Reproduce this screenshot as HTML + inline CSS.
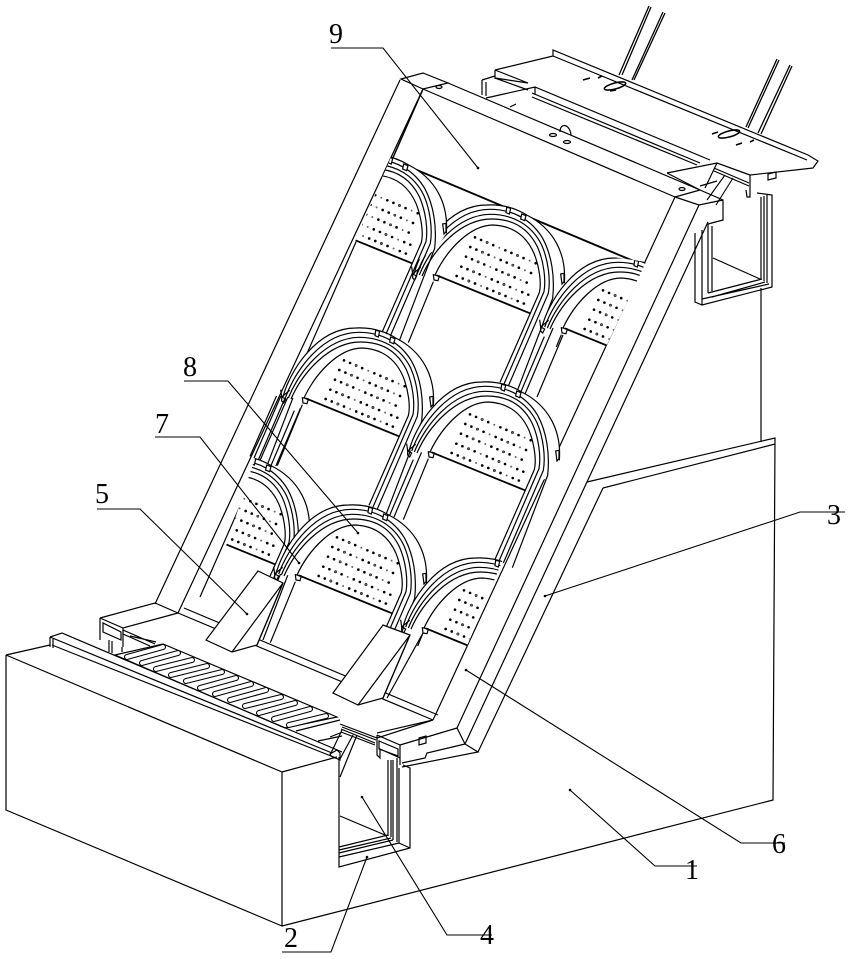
<!DOCTYPE html>
<html lang="en"><head><meta charset="utf-8"><title>Diagram</title>
<style>
html,body{margin:0;padding:0;background:#fff}
svg{display:block}
text{font-family:"Liberation Serif",serif;font-size:28px;fill:#000}
</style></head><body>
<svg width="850" height="959" viewBox="0 0 850 959" xmlns="http://www.w3.org/2000/svg">
<defs>
<clipPath id="cA"><polygon points="392,155 520,155 520,345 311,345"/></clipPath>
<clipPath id="cF"><polygon points="256,455 340,455 340,640 195,640"/></clipPath>
<clipPath id="cC"><polygon points="500,240 646,262 606,347 520,347 500,300"/></clipPath>
<clipPath id="cH"><polygon points="380,550 506,552 467,646 400,646 380,640"/></clipPath>
<clipPath id="cLeg"><rect x="240" y="396" width="60" height="70"/></clipPath>
<g id="leg" transform="translate(260,150) scale(.33333)" fill="none" stroke="#000" stroke-width="3.6">
<path d="M838 428L720 697M852 425L732 702M865 430L745 708M878 445L772 722M853 560L782 727M881 530L795 732"/>
</g>
<g id="extra" transform="translate(260,150) scale(.33333)" fill="none" stroke="#000" stroke-width="3.6">
<path d="M853 560L782 727M881 530L795 732"/>
</g>
<g id="arch" transform="translate(260,150) scale(.33333)" fill="none" stroke="#000" stroke-width="3.6">
<path fill="#fff" stroke="none" d="M462 370C480 300 560 165 680 165C720 163 760 170 800 195C880 235 920 310 913 400L880 450L810 490L525 380Z"/>
<path d="M462 372C480 300 560 165 680 165C720 163 760 170 800 195C880 235 920 310 913 400"/>
<path d="M470 372C500 290 580 178 690 178C760 178 815 210 848 265C875 315 885 380 878 445L772 722"/>
<path d="M478 375C510 295 590 195 690 193C760 193 815 225 845 285C865 330 872 390 865 430L745 708"/>
<path d="M486 378C520 300 600 207 695 207C760 207 805 235 832 290C852 335 858 390 852 425L732 702"/>
<path d="M525 375C560 300 630 225 700 225C760 228 800 260 822 310C838 350 845 400 838 428L720 697"/>
<path d="M902 372L912 370L912 395L906 402Z"/>
<path fill="#fff" d="M740 172L752 175L748 192L738 188ZM785 192L798 197L794 212L782 207Z"/>
<path d="M455 350L458 372L482 352M458 372L470 378L464 390L458 384Z"/>
<path fill="#fff" d="M520 374L538 378L534 392L522 390Z"/>
<path stroke-width="5.5" d="M530 376L810 490"/>
<path d="M520 395L445 578"/>
<g stroke-linecap="round">
<path stroke-width="8" stroke-dasharray="0 39.6 0 19.8 0 39.6" d="M645 262L830 341M631 291L825 374M618 320L815 404M604 350L805 434M590 378L795 462"/>
<path stroke-width="8" stroke-dasharray="0 19.8 0 79.2" stroke-dashoffset="-19.8" d="M645 262L830 341M631 291L825 374M618 320L815 404M604 350L805 434M590 378L795 462"/>
<path stroke-width="6" stroke="#666" stroke-dasharray="0 99" stroke-dashoffset="-39.6" d="M645 262L830 341M631 291L825 374M618 320L815 404M604 350L805 434M590 378L795 462"/>
<path stroke-width="6" stroke="#666" stroke-dasharray="0 99" stroke-dashoffset="-79.2" d="M645 262L830 341M631 291L825 374M618 320L815 404M604 350L805 434M590 378L795 462"/>
</g>
</g>
</defs>

<g fill="none" stroke="#000" stroke-width="1.2">
<!-- block 1 -->
<path d="M587 482L775 438L773 800L282 926M603 488L775 444M761 288V442"/>

<!-- upper assembly -->
<path d="M649 6L619 75M651 7L622 75M663 12L632 80M665 13L634 80M777 59L746 127M779 60L748 128M790 65L758 133M792 66L761 134" stroke-width="1.3"/>
<path d="M495 70L553 56V50L808 155L818 161L813 168L750 175V197L747 197L746 190M553 56L807 160"/>
<path d="M495 70V79M495 70L528 83L495 78M482 80L495 76M482 80V95M486 82V96M495 78L528 90"/>
<path d="M486 98L535 87L710 160M535 87V95M532 93L700 163M532 97L697 165M510 107L516 104"/>
<path d="M667 173L717 163L750 175M667 173L700 190M717 163L705 188M700 186L717 181"/>
<path d="M714 168L749 183M714 171L749 186M725 175L707 200M733 178L716 205" stroke-width="1.1"/>
<ellipse cx="615" cy="86" rx="11" ry="3" transform="rotate(-15 615 86)" stroke-width="1.6"/>
<ellipse cx="729" cy="134" rx="11" ry="3" transform="rotate(-15 729 134)" stroke-width="1.6"/>
<path d="M583 80L590 78M598 78L602 76M610 91L616 90M712 134L718 132M736 145L742 143M750 142L754 140" stroke-width="1.6"/>
<path d="M768 174L776 172V178L768 180Z"/>

<!-- upper channel -->
<path d="M695 233V302L702 305L772 287V195L757 193M702 230V305M708 224V293M712 226V291M761 197V279M764 196V281M767 195V283"/>
<path d="M708 293L762 279M712 297L765 282M702 299L769 284M713 258L760 279"/>

<!-- frame -->
<path d="M401 79L423 73L448 83L423 89ZM400 80L155 604M423 89L178 613"/>
<path d="M423 89L675 197M448 83L700 190L723 200V220L708 224M675 197L700 190M675 197L699 205L723 200"/>
<path d="M423 89L392 160" stroke-width="1.5"/>
<path d="M392 160L200 597"/>
<path d="M393 160L643 265" stroke-width="1.9"/>
<path d="M675 197L433 720M699 205L457 728M708 222L465 744M603 488L478 752"/>
<ellipse cx="439" cy="87" rx="3" ry="1.5"/><ellipse cx="682" cy="189" rx="3" ry="1.5"/>
<path d="M560 132C560 122 570 124 571 135"/>
<ellipse cx="553" cy="135" rx="3.5" ry="1.5"/><ellipse cx="567" cy="142" rx="3.5" ry="1.5"/>

<!-- lower rails -->
<path d="M178 613L433 720M184 608L438 715"/>

<!-- arches -->
<path d="M563 335L537 397"/>
<g clip-path="url(#cLeg)"><use href="#leg" transform="translate(-250,74)"/></g>
<use href="#arch" transform="translate(-131,123)"/>
<use href="#extra" transform="translate(-131,123)"/>
<use href="#arch"/>
<use href="#extra"/>
<use href="#arch" transform="translate(-5,177)"/>
<g clip-path="url(#cA)"><use href="#arch" transform="translate(-118,-50)"/></g>
<g clip-path="url(#cC)"><use href="#arch" transform="translate(128,53)"/></g>
<g clip-path="url(#cF)"><use href="#arch" transform="translate(-255,251)"/></g>
<use href="#arch" transform="translate(-138,300)"/>
<g clip-path="url(#cH)"><use href="#arch" transform="translate(-11,353)"/></g>
<path d="M423 633L387 698"/>

<!-- wedges -->
<path fill="#fff" d="M258 571L206 640L232 652L257 645L283 583Z"/>
<path d="M232 652L283 583M257 645L283 583"/>
<path fill="#fff" d="M383 625L333 693L358 705L383 698L410 635Z"/>
<path d="M358 705L410 635M383 698L410 635"/>

<!-- base left end -->
<path d="M100 618L155 603L178 613M100 618L123 628L178 613M100 618V640M103 623V632L121 640V632ZM123 628V647M109 640V652M112 641V653M122 647V652"/>
<path d="M123 630L155 644M123 634L150 646M130 636L156 642"/>

<!-- grate -->
<path d="M115 655L163 644L337 717L285 728Z" fill="#fff"/>
<path stroke="#000" stroke-width="6" stroke-linecap="round" d="M127 657L163 647M142 663L178 653M156 669L192 660M171 675L207 666M186 681L222 672M200 688L236 678M215 694L251 684M230 700L266 690M245 706L281 697M259 713L295 703M274 719L310 709M289 725L326 716"/>
<path stroke="#fff" stroke-width="3.8" stroke-linecap="round" d="M127 657L163 647M142 663L178 653M156 669L192 660M171 675L207 666M186 681L222 672M200 688L236 678M215 694L251 684M230 700L266 690M245 706L281 697M259 713L295 703M274 719L310 709M289 725L326 716"/>

<!-- base lip & lower block -->
<path d="M50 637L62 633L342 752M53 639V648M50 637V647M50 637L332 753M52 645L336 758"/>
<path d="M6 655L50 645M6 655V810L282 926V772L6 655M282 772L337 757"/>
<path d="M296 731L340 720M318 741L342 736M330 737L340 733"/>
<path d="M330 754L337 750L340 753V760L331 756Z"/>

<!-- center channel -->
<path d="M339 757V867L410 848V768L403 765M399 768V843L410 848"/>
<path d="M388 760V836M391 760V837M393 760V840M397 758V842"/>
<path d="M339 847L388 835M339 850L391 838M339 853L393 840M339 857L399 843"/>
<path d="M340 816L385 835"/>
<path d="M342 727L376 740M341 729L375 743M341 732L375 745M342 730L331 753M357 735L340 777M353 735L340 759"/>
<path d="M340 724L377 738L433 720M377 733L433 720M377 735L400 745V765M377 735V755L380 758V749L400 758M379 741L398 749V756L379 749Z"/>
<path d="M400 745L457 728L465 744L478 752L402 767M402 763L425 758L427 753L465 744"/>
<path d="M419 738L426 736V743L419 745Z"/>

<!-- leaders -->
<path stroke-width="1.1" d="M331 48H383L478 168M184 381H228L358 533M155 437H200L299 563M97 509H140L247 614M845 512H800L545 596M785 843H741L466 670M697 866H655L570 790M492 935H447L362 797M282 952H331L367 857"/>
</g>
<g fill="#000"><circle cx="478" cy="168" r="1.3"/><circle cx="358" cy="533" r="1.3"/><circle cx="299" cy="563" r="1.3"/><circle cx="247" cy="614" r="1.3"/><circle cx="545" cy="596" r="1.3"/><circle cx="466" cy="670" r="1.3"/><circle cx="570" cy="790" r="1.3"/><circle cx="362" cy="797" r="1.3"/><circle cx="367" cy="857" r="1.3"/></g>

<text x="329" y="43">9</text>
<text x="183" y="376">8</text>
<text x="155" y="433">7</text>
<text x="95" y="503">5</text>
<text x="827" y="524">3</text>
<text x="772" y="853">6</text>
<text x="685" y="879">1</text>
<text x="480" y="944">4</text>
<text x="284" y="947">2</text>
</svg>
</body></html>
